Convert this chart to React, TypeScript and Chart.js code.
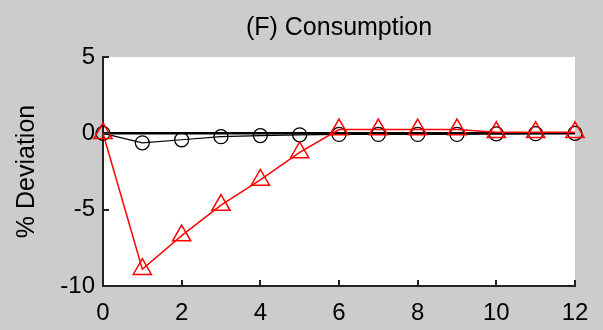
import { useEffect, useRef } from 'react';
import { Chart, registerables } from 'chart.js';

Chart.register(...registerables);

const periods = [0, 1, 2, 3, 4, 5, 6, 7, 8, 9, 10, 11, 12];
const redSeries = [0, -8.9, -6.7, -4.7, -3.05, -1.25, 0.25, 0.25, 0.25, 0.25, 0.07, 0.07, 0.07];
const blackSeries = [0, -0.62, -0.42, -0.22, -0.15, -0.1, -0.07, -0.07, -0.07, -0.07, -0.03, -0.02, 0];
const zeroLine = [0, 0, 0, 0, 0, 0, 0, 0, 0, 0, 0, 0, 0];
const xTicks = [0, 2, 4, 6, 8, 10, 12];
const yTicks = [-10, -5, 0, 5];
const titleText = '(F) Consumption';

const FONT = '"Liberation Sans", Arial, Helvetica, sans-serif';

export default function App() {
  const ref = useRef<HTMLCanvasElement>(null);

  useEffect(() => {
    document.body.style.margin = '0';
    const canvas = ref.current;
    if (!canvas) return;

    const toPts = (arr: number[]) => periods.map((p, i) => ({ x: p, y: arr[i] }));

    const bgPlugin = {
      id: 'bg',
      beforeDraw(chart: any) {
        const { ctx, chartArea } = chart;
        ctx.save();
        ctx.fillStyle = '#cccccc';
        ctx.fillRect(0, 0, chart.width, chart.height);
        ctx.fillStyle = '#ffffff';
        ctx.fillRect(chartArea.left, chartArea.top, chartArea.right - chartArea.left, chartArea.bottom - chartArea.top);
        ctx.restore();
      },
      afterDraw(chart: any) {
        const { ctx, chartArea, scales } = chart;
        ctx.save();
        // inward tick marks
        ctx.strokeStyle = '#222222';
        ctx.lineWidth = 2;
        ctx.beginPath();
        xTicks.forEach((v) => {
          const px = Math.round(scales.x.getPixelForValue(v));
          ctx.moveTo(px, chartArea.bottom);
          ctx.lineTo(px, chartArea.bottom - 6);
        });
        yTicks.forEach((v) => {
          const py = Math.round(scales.y.getPixelForValue(v));
          ctx.moveTo(chartArea.left, py);
          ctx.lineTo(chartArea.left + 6, py);
        });
        ctx.stroke();
        // title centred over the plot area
        ctx.fillStyle = '#000000';
        ctx.font = `25px ${FONT}`;
        ctx.textAlign = 'center';
        ctx.textBaseline = 'middle';
        ctx.fillText(titleText, (chartArea.left + chartArea.right) / 2, 28);
        ctx.restore();
      },
    };

    const chart = new Chart(canvas, {
      type: 'line',
      data: {
        datasets: [
          {
            label: 'Red',
            data: toPts(redSeries),
            borderColor: '#ff0000',
            borderWidth: 1.5,
            pointStyle: 'triangle',
            pointRadius: 10.5,
            pointBorderColor: '#ff0000',
            pointBorderWidth: 1.5,
            pointBackgroundColor: 'rgba(0,0,0,0)',
            fill: false,
            tension: 0,
            clip: false as any,
          },
          {
            label: 'Black',
            data: toPts(blackSeries),
            borderColor: '#000000',
            borderWidth: 1.2,
            pointStyle: 'circle',
            pointRadius: 7,
            pointBorderColor: '#000000',
            pointBorderWidth: 1.3,
            pointBackgroundColor: 'rgba(0,0,0,0)',
            fill: false,
            tension: 0,
            clip: false as any,
          },
          {
            label: 'Zero',
            data: toPts(zeroLine),
            borderColor: '#000000',
            borderWidth: 2.5,
            pointRadius: 0,
            fill: false,
            tension: 0,
          },
        ],
      },
      options: {
        responsive: false,
        animation: false,
        layout: { padding: { left: 0, right: 28, top: 57, bottom: 0 } },
        plugins: {
          legend: { display: false },
          tooltip: { enabled: false },
          title: { display: false },
        },
        scales: {
          x: {
            type: 'linear',
            min: 0,
            max: 12,
            afterBuildTicks: (s: any) => {
              s.ticks = xTicks.map((v) => ({ value: v }));
            },
            afterFit: (s: any) => {
              s.height = 44;
            },
            ticks: {
              color: '#000000',
              font: { family: FONT, size: 24 },
              padding: 13,
              maxRotation: 0,
              autoSkip: false,
            },
            grid: { display: false, drawTicks: false },
            border: { display: true, color: '#222222', width: 2 },
          },
          y: {
            type: 'linear',
            min: -10,
            max: 5,
            afterBuildTicks: (s: any) => {
              s.ticks = yTicks.map((v) => ({ value: v }));
            },
            afterFit: (s: any) => {
              s.width = 103;
            },
            ticks: {
              color: '#000000',
              font: { family: FONT, size: 24 },
              padding: 8,
              autoSkip: false,
            },
            grid: { display: false, drawTicks: false },
            border: { display: true, color: '#222222', width: 2 },
            title: {
              display: true,
              text: '% Deviation',
              color: '#000000',
              font: { family: FONT, size: 25, weight: 'normal' },
              padding: { top: 12.5, bottom: 0 },
            },
          },
        },
      },
      plugins: [bgPlugin],
    } as any);

    return () => chart.destroy();
  }, []);

  return <canvas ref={ref} width={603} height={330} style={{ display: 'block' }} />;
}
